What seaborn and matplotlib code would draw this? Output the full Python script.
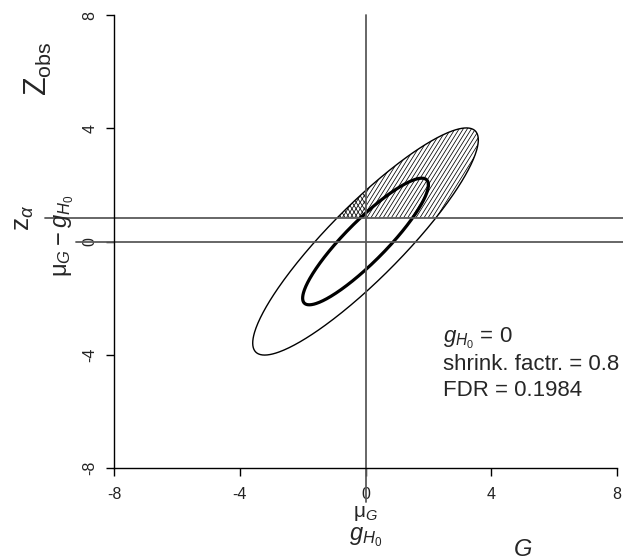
import numpy as np
import pandas as pd
import seaborn as sns
import matplotlib
matplotlib.use("Agg")
import matplotlib.pyplot as plt
from matplotlib.patches import Polygon
from matplotlib.collections import LineCollection

# Model: G ~ N(0, tau2), Z_obs = G + e, e ~ N(0, sigma2)
g_h0 = 0.0
tau2 = 4.0
sigma2 = 1.0
shrink_factor = 0.8
fdr = 0.1984
z_alpha = 0.84
# radii of the two drawn contours (in Mahalanobis units)
contour_radii = [1.0, 1.794]
contour_widths = [2.3, 1.0]

ticks = [-8, -4, 0, 4, 8]
tick_labels = ["-8", "-4", "0", "4", "8"]

sns.set_style("white")
plt.rcParams["font.family"] = ["Liberation Sans", "DejaVu Sans"]
plt.rcParams["mathtext.fontset"] = "custom"
plt.rcParams["mathtext.rm"] = "Liberation Sans"
plt.rcParams["mathtext.it"] = "Liberation Sans:italic"
plt.rcParams["mathtext.bf"] = "Liberation Sans:bold"
plt.rcParams["axes.unicode_minus"] = False

fig = plt.figure(figsize=(6.23, 5.6), dpi=100)
ax = fig.add_axes([0.183, 0.1643, 0.8074, 0.8089])

cov = np.array([[tau2, tau2], [tau2, tau2 + sigma2]])
chol = np.linalg.cholesky(cov)
theta = np.linspace(0, 2 * np.pi, 400)
circle = np.vstack([np.cos(theta), np.sin(theta)])

curves = []
for r, lw in zip(contour_radii, contour_widths):
    pts = r * chol @ circle
    df = pd.DataFrame({"G": pts[0] + g_h0, "Z": pts[1]})
    sns.lineplot(data=df, x="G", y="Z", sort=False, estimator=None,
                 color="black", lw=lw, ax=ax)
    curves.append(pts.T + [g_h0, 0])

ax.set_xlim(-8, 8)
ax.set_ylim(-8, 8)

# shading of the rejection region (Z > z_alpha) inside the outer contour:
# single hatching where G > g_H0, cross-hatching where G < g_H0
outer = Polygon(curves[-1], closed=True, transform=ax.transData,
                facecolor="none", edgecolor="none")
ax.add_patch(outer)

slope = np.tan(np.radians(58)) * (31.44 / 28.31)   # steep hatch angle
step = 0.13
top = 10.0
seg_pos, seg_neg = [], []
for x0 in np.arange(-12, 12, step):
    # rising lines: x = x0 + y / slope
    y_lo = max(z_alpha, slope * (g_h0 - x0))
    if y_lo < top:
        seg_pos.append([(x0 + y_lo / slope, y_lo), (x0 + top / slope, top)])
    y_hi = min(top, slope * (g_h0 - x0))
    if y_hi > z_alpha:
        seg_neg.append([(x0 + z_alpha / slope, z_alpha),
                        (x0 + y_hi / slope, y_hi)])
    # falling lines for the cross-hatch: x = x0 - y / slope
    y_lo2 = max(z_alpha, slope * (x0 - g_h0))
    if y_lo2 < top:
        seg_neg.append([(x0 - y_lo2 / slope, y_lo2), (x0 - top / slope, top)])

for segs in (seg_pos, seg_neg):
    lc = LineCollection(segs, colors="black", linewidths=0.55)
    ax.add_collection(lc)
    lc.set_clip_path(outer)

# reference lines
ref = "#5a5a5a"
ax.plot([-10.2, 9.5], [z_alpha, z_alpha], color=ref, lw=1.3, clip_on=False)
ax.plot([-9.2, 9.5], [0, 0], color=ref, lw=1.3, clip_on=False)
ax.plot([g_h0, g_h0], [8, -9.2], color=ref, lw=1.3, clip_on=False)

ax.set_xticks(ticks)
ax.set_xticklabels(tick_labels)
ax.set_yticks(ticks)
ax.set_yticklabels(tick_labels, rotation=90, va="center")
ax.set_xlabel("")
ax.set_ylabel("")
sns.despine(ax=ax)
for s in ("left", "bottom"):
    ax.spines[s].set_color("black")
    ax.spines[s].set_linewidth(1.0)
ax.tick_params(direction="out", length=6, width=1, colors="black",
               labelcolor="#222222", labelsize=11.5,
               bottom=True, left=True)
ax.tick_params(axis="x", pad=8)
ax.tick_params(axis="y", pad=6)

# axis annotations
ax.text(-10.4, 6.1, r"$\mathrm{Z}_{\mathrm{obs}}$", rotation=90,
        fontsize=22, ha="center", va="center", clip_on=False)
ax.text(-10.85, z_alpha, r"$\mathrm{z}_{\alpha}$", rotation=90,
        fontsize=19, ha="center", va="center", clip_on=False)
ax.text(-9.6, 0.2, r"$\mathrm{\mu}_G - g_{H_0}$", rotation=90,
        fontsize=17, ha="center", va="center", clip_on=False)
ax.text(0.0, -9.59, r"$\mathrm{\mu}_G$", fontsize=15, ha="center",
        va="center", clip_on=False)
ax.text(0.0, -10.44, r"$g_{H_0}$", fontsize=17, ha="center", va="center",
        clip_on=False)
ax.text(5.0, -10.9, r"$G$", fontsize=17, ha="center", va="center",
        clip_on=False)

ax.text(2.48, -3.44, r"$g_{H_0}$" + f" = {g_h0:g}", fontsize=16,
        ha="left", va="center")
ax.text(2.48, -4.36, f"shrink. factr. = {shrink_factor:g}", fontsize=16,
        ha="left", va="center", clip_on=False)
ax.text(2.48, -5.25, f"FDR = {fdr:g}", fontsize=16, ha="left", va="center")

fig.savefig("out.png", dpi=100, facecolor="white")
